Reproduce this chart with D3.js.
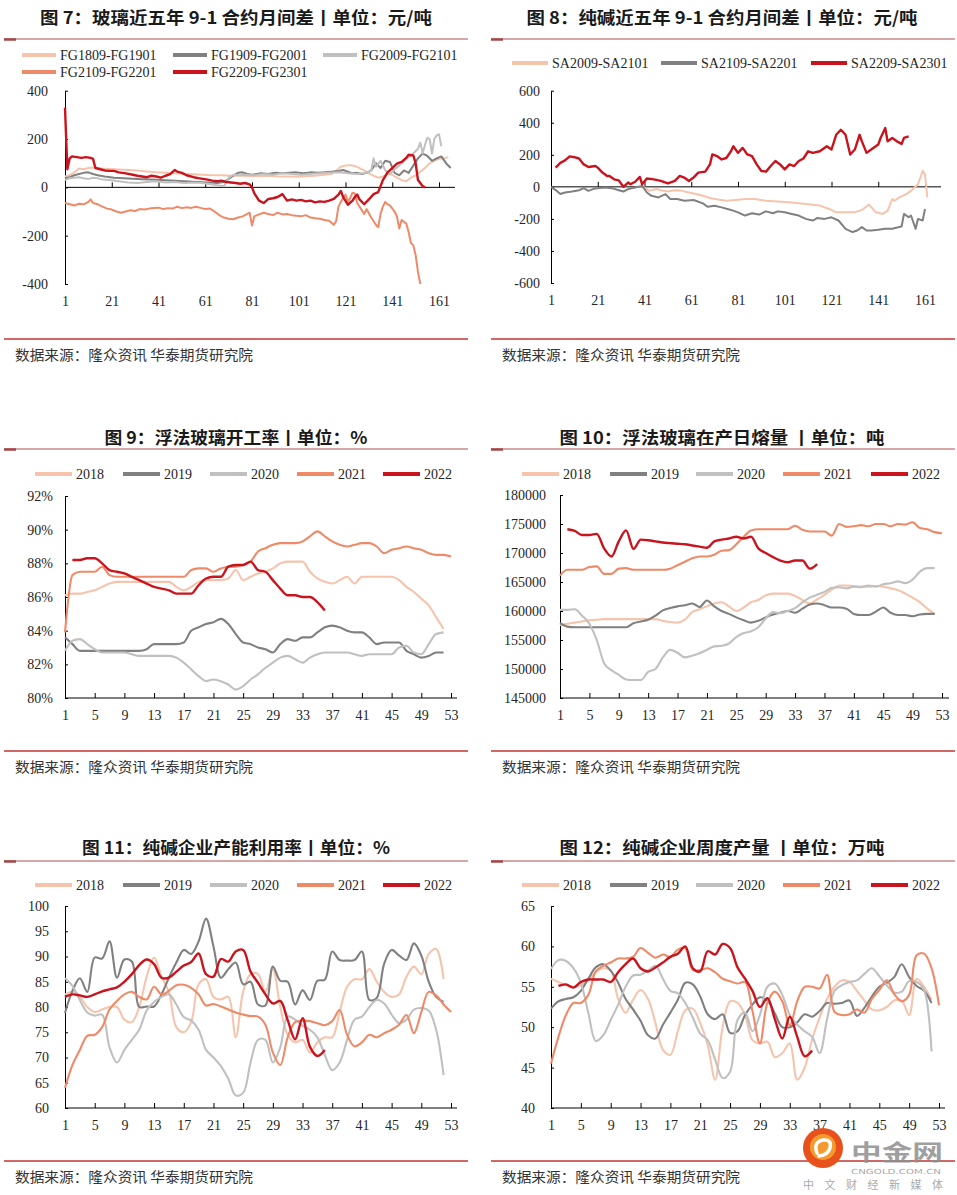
<!DOCTYPE html>
<html>
<head>
<meta charset="utf-8">
<script src="https://cdn.jsdelivr.net/npm/d3@7"></script>
<style>
  body { margin: 0; background: #fff; }
  svg { display: block; }
</style>
</head>
<body>
<div id="chart"></div>
<script>
// ---------- data ----------
// fig 7: glass 9-1 spread, trading day -> yuan/ton
var fg1809 = [[1,45],[3,50],[5,62],[7,78],[9,75],[11,80],[13,82],[15,80],[17,78],[20,76],[24,74],[28,72],[32,70],[36,66],[40,62],[44,60],[48,58],[52,56],[56,54],[60,52],[64,50],[68,50],[72,48],[76,48],[80,47],[84,46],[88,48],[92,45],[96,45],[100,44],[104,46],[108,48],[112,52],[115,55],[117,70],[119,85],[121,90],[123,92],[125,88],[127,80],[129,70],[131,58],[133,48],[135,40],[137,45],[139,55],[141,52],[143,40],[145,30],[147,25],[149,40],[151,50],[153,65],[155,80],[157,100],[159,110],[161,118],[163,120],[165,125]];
var fg1909 = [[1,38],[3,42],[5,50],[7,55],[9,60],[11,62],[13,55],[15,50],[18,45],[22,40],[26,38],[30,36],[34,34],[38,32],[42,30],[46,28],[50,26],[54,24],[58,22],[62,20],[66,18],[69,22],[71,35],[73,48],[75,60],[77,62],[79,55],[81,52],[83,55],[85,58],[88,55],[91,60],[94,58],[97,60],[100,62],[103,58],[106,62],[109,60],[112,62],[115,65],[118,68],[120,72],[122,65],[124,58],[126,60],[128,55],[130,60],[132,70],[134,100],[136,80],[138,110],[140,105],[142,60],[144,50],[146,70],[148,60],[150,90],[152,120],[154,140],[156,130],[158,110],[160,120],[162,128],[164,100],[166,80]];
var fg2009 = [[1,30],[3,38],[5,40],[7,42],[9,38],[11,35],[13,40],[15,38],[17,32],[20,30],[24,25],[28,20],[32,18],[36,22],[40,25],[44,20],[48,22],[52,18],[56,20],[60,18],[64,12],[67,8],[69,5],[71,40],[73,52],[75,50],[78,52],[82,50],[86,55],[90,52],[94,58],[98,55],[102,52],[106,55],[110,58],[114,60],[118,62],[122,58],[126,55],[130,60],[132,70],[133,120],[134,85],[136,110],[138,70],[140,55],[142,75],[144,90],[146,110],[148,125],[150,140],[152,160],[153,185],[154,140],[155,175],[156,205],[157,200],[158,140],[159,200],[160,215],[161,220],[162,170]];
var fg2109 = [[1,-65],[3,-70],[5,-75],[7,-68],[9,-70],[11,-60],[12,-50],[13,-65],[15,-70],[17,-80],[19,-88],[21,-92],[23,-100],[25,-105],[27,-100],[29,-95],[31,-98],[33,-90],[35,-92],[37,-88],[39,-85],[41,-84],[43,-90],[45,-86],[47,-88],[49,-80],[51,-86],[53,-82],[55,-85],[57,-80],[59,-85],[61,-90],[63,-88],[65,-100],[67,-115],[69,-125],[71,-130],[73,-132],[75,-125],[77,-120],[79,-110],[80,-105],[81,-158],[82,-120],[84,-112],[86,-105],[88,-110],[90,-115],[92,-105],[94,-112],[96,-110],[98,-115],[100,-118],[102,-120],[104,-115],[106,-125],[108,-128],[110,-130],[112,-135],[114,-138],[116,-155],[117,-140],[118,-80],[119,-60],[120,-45],[121,-30],[122,-60],[123,-45],[124,-22],[125,-25],[126,-65],[128,-95],[129,-110],[130,-90],[132,-125],[134,-155],[135,-165],[136,-110],[137,-80],[138,-60],[139,-70],[140,-75],[142,-100],[143,-120],[144,-170],[145,-135],[147,-150],[148,-185],[149,-230],[150,-240],[151,-280],[152,-350],[153,-400]];
var fg2209 = [[1,330],[2,75],[3,120],[4,128],[6,125],[8,122],[10,125],[12,122],[13,118],[14,80],[16,75],[18,70],[20,68],[22,68],[24,62],[27,58],[30,52],[32,48],[34,45],[36,42],[38,48],[40,45],[42,40],[44,48],[46,55],[48,72],[49,65],[51,60],[53,50],[56,42],[58,38],[60,35],[62,32],[64,28],[66,25],[68,28],[70,22],[72,20],[74,18],[76,15],[78,18],[80,12],[81,0],[82,-25],[84,-55],[86,-65],[88,-48],[90,-45],[92,-40],[94,-28],[96,-55],[98,-50],[100,-55],[102,-52],[104,-58],[106,-55],[108,-62],[110,-58],[112,-60],[114,-55],[116,-48],[118,-30],[119,-15],[120,-40],[122,-72],[124,-55],[125,-40],[126,-30],[127,-50],[129,-70],[131,-50],[133,-28],[135,-20],[136,5],[137,30],[139,62],[141,80],[143,98],[145,105],[147,122],[148,135],[150,132],[151,100],[152,30],[153,18],[154,5],[155,0]];

// fig 8: soda ash 9-1 spread
var sa2009 = [[40,6],[43,-25],[46,-14],[49,-25],[51,-29],[54,-21],[57,-25],[60,-35],[63,-45],[66,-56],[69,-70],[71,-76],[76,-87],[80,-82],[84,-76],[88,-76],[93,-87],[98,-91],[104,-97],[110,-107],[116,-117],[120,-138],[123,-159],[127,-159],[131,-159],[134,-144],[137,-111],[140,-159],[143,-169],[145,-148],[147,-76],[148,-87],[150,-66],[153,-45],[155,-25],[158,16],[160,99],[161,80],[162,-66]];
var sa2109 = [[1,0],[3,-20],[5,-45],[7,-35],[10,-29],[13,-21],[15,-8],[17,-25],[19,-14],[21,-8],[24,-4],[27,-8],[30,-21],[32,-29],[34,-14],[37,-4],[40,6],[42,-35],[44,-56],[47,-66],[50,-45],[52,-76],[55,-76],[58,-87],[62,-82],[66,-103],[68,-124],[71,-118],[74,-128],[78,-144],[81,-159],[84,-179],[87,-165],[90,-173],[93,-153],[96,-165],[98,-153],[101,-159],[104,-169],[107,-179],[110,-200],[113,-210],[115,-194],[118,-200],[121,-190],[124,-210],[127,-262],[130,-282],[132,-272],[134,-251],[136,-272],[138,-272],[141,-268],[144,-262],[147,-262],[150,-251],[151,-247],[152,-169],[154,-190],[155,-179],[157,-262],[158,-200],[160,-210],[161,-138]];
var sa2209 = [[3,120],[5,150],[7,165],[9,190],[11,185],[13,177],[15,140],[17,124],[20,130],[21,120],[23,89],[25,68],[26,68],[28,47],[30,40],[32,0],[34,27],[35,16],[37,32],[39,62],[40,16],[42,52],[45,47],[48,37],[51,21],[54,37],[56,68],[58,58],[60,37],[62,58],[64,89],[67,95],[69,140],[70,202],[72,192],[74,171],[76,180],[78,222],[79,253],[81,212],[83,243],[85,202],[87,192],[89,140],[91,99],[93,95],[95,130],[97,161],[99,140],[101,109],[103,140],[105,130],[107,161],[109,177],[111,222],[113,212],[116,222],[119,253],[121,233],[123,325],[125,356],[127,325],[129,202],[131,233],[133,325],[134,284],[136,212],[138,233],[141,264],[142,305],[144,367],[145,284],[147,305],[149,284],[151,268],[152,305],[154,315]];

var dayTicks = [1, 21, 41, 61, 81, 101, 121, 141, 161];
var weekTicks = [1, 5, 9, 13, 17, 21, 25, 29, 33, 37, 41, 45, 49, 53];
var years = ["2018", "2019", "2020", "2021", "2022"];

// fig 9: float glass operating rate, %
var glass2018 = [86.1,86.2,86.2,86.3,86.4,86.6,86.8,86.9,86.9,86.9,86.9,86.9,86.9,86.9,86.9,86.6,86.4,86.6,86.9,87.0,87.0,87.0,87.1,87.6,87.0,87.2,87.4,87.5,87.7,88.0,88.1,88.1,88.1,87.5,87.1,86.9,86.8,87.0,87.2,86.8,87.2,87.2,87.2,87.2,87.2,87.0,86.6,86.3,85.9,85.5,84.8,84.1];
var glass2019 = [83.6,83.2,82.8,82.8,82.8,82.8,82.8,82.8,82.8,82.8,82.8,82.9,83.2,83.2,83.2,83.2,83.3,84.0,84.2,84.4,84.5,84.7,84.4,83.8,83.3,83.2,83.0,82.9,82.7,83.2,83.5,83.4,83.6,83.6,83.9,84.2,84.3,84.2,84.0,83.9,83.9,83.6,83.2,83.3,83.3,83.3,82.8,82.6,82.4,82.5,82.7,82.7];
var glass2020 = [82.8,83.4,83.5,83.2,82.9,82.7,82.7,82.7,82.7,82.6,82.5,82.5,82.5,82.5,82.5,82.4,82.1,81.7,81.3,81.0,81.1,81.0,80.8,80.5,80.7,81.1,81.4,81.8,82.1,82.4,82.5,82.3,82.1,82.4,82.6,82.7,82.7,82.7,82.7,82.6,82.5,82.6,82.6,82.6,82.6,83.0,83.1,82.7,82.6,83.2,83.8,83.9];
var glass2021 = [83.9,87.3,87.5,87.5,87.5,87.8,87.3,87.2,87.2,87.2,87.2,87.2,87.2,87.2,87.2,87.2,87.2,87.6,87.7,87.7,87.5,87.7,87.8,87.8,87.9,88.1,88.7,88.9,89.1,89.2,89.2,89.2,89.3,89.6,89.9,89.6,89.3,89.1,89.0,89.1,89.2,89.2,89.0,88.6,88.8,88.9,89.0,88.9,88.8,88.6,88.5,88.5,88.4];
var glass2022 = [null,88.2,88.2,88.3,88.3,88.0,87.6,87.5,87.4,87.2,87.0,86.8,86.6,86.5,86.4,86.2,86.2,86.2,86.7,87.1,87.2,87.2,87.8,87.9,87.9,88.1,87.6,87.5,87.0,86.5,86.1,86.1,86.0,86.0,85.7,85.2];

// fig 10: float glass daily melt, tons
var melt2018 = [157600,157800,158000,158200,158400,158500,158600,158600,158600,158600,158600,158600,158600,158600,158300,158100,158000,158500,159800,160300,160800,161300,161500,160800,160000,160600,161500,161900,162700,163000,163000,163000,162600,161900,161300,162000,162800,163700,164400,164400,164300,164200,164200,164300,164200,163900,163600,163000,162300,161500,160400,159500];
var melt2019 = [157900,157300,157200,157200,157200,157200,157200,157200,157200,157200,157900,158200,158500,159200,160100,160500,160800,161000,161300,160700,161800,160800,160000,159500,158900,158400,158000,158300,158900,159400,159700,160000,159700,160400,161100,161300,161000,160600,160600,160400,159500,159300,159300,159900,160600,159700,159300,159300,159100,159400,159500,159500];
var melt2020 = [160200,160200,160300,159200,157800,155000,151000,149800,149000,148200,148100,148100,149500,150000,152000,153300,152800,152000,152300,152700,153300,153900,154000,154400,155500,156200,156500,157200,158700,159800,159600,160000,160500,161500,162300,162800,163300,164000,164100,163900,164200,164100,164400,164200,164600,164800,165100,164800,165400,166800,167400,167400];
var melt2021 = [166100,167100,167100,167100,167600,167700,166400,166400,167300,167400,167100,167100,167100,167100,167100,167300,167900,168500,169100,169400,169400,169700,170400,170500,171500,172800,173900,174100,174100,174100,174100,174100,174700,174000,173700,173700,173700,173000,175000,174500,174600,174800,174600,175000,175000,174600,175000,174900,175300,174300,174100,173600,173400];
var melt2022 = [null,174100,173800,173100,173100,173300,170800,169400,172000,173900,170700,172300,172200,172000,171800,171700,171600,171500,171300,171100,170900,172000,172300,172500,172800,172500,172800,170800,170000,169300,168700,168400,168700,168700,167300,168100];

// fig 11: soda ash capacity utilisation, %
var util2018 = [82.5,83,82,80,79,79.5,80,80,77.5,77,80,86,89.8,86,83,76,75,77,84.5,85.5,82,81.5,82,74,83,86.5,86.5,83,87.5,80,74.5,73,73.5,71,73,74,74,79,84,85.5,85.5,87.5,85,83,82,82.5,86,88,86.5,90.5,91.5,85.5];
var util2019 = [78.8,83.2,85.7,83.0,89.8,89.6,93.0,85.8,89.4,89.0,80.0,80.1,80.1,82.5,85.8,88.8,91.3,90.5,93.0,97.5,92.0,85.8,87.5,88.8,84.5,85.0,80.5,80.3,88.0,85.2,85.0,80.5,83.3,81.4,85.2,85.4,91.0,89.3,89.2,89.3,91.0,81.4,81.8,88.6,91.3,90.2,89.3,92.6,90.2,85.0,82.0,81.0];
var util2020 = [85.7,84.2,81.4,78.9,78.3,78.5,72.0,69.0,71.5,73.5,75.5,79.3,81.0,82.0,82.5,80.5,78.0,77.3,75.5,71.5,70.0,68.3,65.8,62.5,63.0,69.0,73.5,73.5,69.0,72.0,78.1,77.5,76.3,75.5,74.0,70.5,67.5,69.0,73.5,77.5,78.1,80.0,81.4,80.7,78.5,76.8,77.5,79.5,79.8,79.3,75.5,66.5];
var util2021 = [64.0,68.5,71.5,74.3,74.5,76.0,79.5,81.2,82.5,83.0,82.0,81.5,84.0,82.5,83.2,84.3,84.4,83.8,82.5,80.3,80.6,80.1,79.5,78.9,78.5,78.2,78.1,76.5,71.0,68.5,74.0,77.0,77.3,77.2,76.8,76.4,77.2,79.4,74.5,72.2,73.0,74.5,74.0,74.8,75.5,76.5,78.4,74.8,79.0,83.0,82.3,80.5,79.0];
var util2022 = [82.0,82.5,82.3,82.0,82.5,83.1,83.5,83.9,85.0,86.5,88.3,89.4,88.5,85.8,85.8,87.0,88.2,88.9,90.6,86.5,86.0,89.5,89.0,91.0,91.3,87.0,84.8,82.5,80.7,81.2,77.4,73.6,77.8,72.1,70.3,71.5];

// fig 12: soda ash weekly output, 10k tons
var prod2018 = [56.0,55.6,55.2,55.0,55.2,55.8,56.8,57.3,57.0,53.5,51.8,53.4,54.6,53.5,50.5,47.2,46.6,49.5,52.1,52.3,50.5,47.8,43.5,50.0,53.2,53.0,51.5,48.4,48.0,48.2,46.3,46.8,48.0,43.5,45.0,48.5,51.2,53.5,55.0,55.8,55.6,54.5,53.3,52.2,52.1,52.5,53.3,53.3,51.5,56.0,55.0,53.4];
var prod2019 = [52.3,53.2,53.5,53.7,54.5,56.0,57.4,57.8,57.0,55.5,53.5,52.2,50.8,49.0,48.6,50.3,51.8,53.4,55.5,55.3,53.8,51.6,51.0,51.6,49.3,49.5,51.5,52.8,53.7,53.3,51.7,50.0,50.0,50.6,51.6,51.3,52.0,53.0,52.9,53.0,53.3,51.4,52.4,53.8,55.0,55.5,56.2,57.8,56.2,55.1,54.5,53.0];
var prod2020 = [57.2,58.3,58.2,57.3,55.5,51.8,48.3,49.0,50.9,52.8,55.0,56.4,56.5,57.0,57.6,56.0,54.5,54.2,53.0,51.2,49.2,48.4,46.0,43.7,44.5,50.9,51.8,49.5,51.5,55.0,55.4,54.0,51.5,50.3,49.5,48.8,46.8,51.0,54.5,55.2,55.6,55.8,56.6,57.3,56.3,55.2,54.3,54.4,55.7,55.6,54.6,47.0];
var prod2021 = [45.5,48.8,51.5,53.0,53.0,54.0,56.9,57.6,58.0,58.5,58.5,58.7,59.8,59.2,58.6,59.0,58.7,59.6,59.8,57.1,57.1,57.3,56.8,56.0,55.7,55.4,55.6,52.0,48.0,53.0,54.4,53.2,50.2,53.2,55.0,55.0,54.8,56.5,51.9,51.5,51.6,52.2,51.8,53.5,54.6,55.8,54.1,53.2,54.0,58.9,59.1,57.3,52.7];
var prod2022 = [null,55.1,55.3,54.9,55.6,55.9,55.9,55.9,55.6,56.8,57.8,58.5,57.3,56.9,57.4,58.0,58.7,59.1,60.0,57.3,56.9,59.4,59.0,60.3,59.8,57.4,56.0,54.5,52.5,53.6,51.0,48.6,51.3,48.8,46.4,47.1];

// ---------- setup ----------
var COL = {c18: "#F6C4AC", c19: "#808080", c20: "#C0C0C0", c21: "#EE8A68", c22: "#C9141E"};
var yearCols = [COL.c18, COL.c19, COL.c20, COL.c21, COL.c22];
var SERIF = "'Liberation Serif','Times New Roman',serif";
var CJK = "'Noto Sans CJK SC','Noto Sans',sans-serif";
var SOURCE = "数据来源：隆众资讯 华泰期货研究院";

var svg = d3.select("#chart").append("svg")
  .attr("width", 957)
  .attr("height", 1195);

//turn a weekly array into [week, value] pairs
function byWeek(arr) {
  return arr.map(function(v, i) { return [i + 1, v]; });
}

function yearSeries(arrs) {
  return arrs.map(function(a, i) {
    return {name: years[i], data: byWeek(a), color: yearCols[i], w: i == 4 ? 2.4 : 2.1};
  });
}

var drawPanel = function(p) {
  var g = svg.append("g");
  var x = d3.scaleLinear().domain(p.xDomain).range(p.xRange);
  var y = d3.scaleLinear().domain(p.yDomain).range(p.yRange);

  //Title and rules
  g.append("text")
    .attr("x", p.titleX).attr("y", p.titleY)
    .attr("text-anchor", "middle")
    .style("font-family", CJK).style("font-weight", "bold").style("font-size", "17px")
    .style("fill", "#1a1a1a")
    .attr("textLength", p.titleW).attr("lengthAdjust", "spacingAndGlyphs")
    .text(p.title);
  g.append("line")
    .attr("x1", p.ruleX[0]).attr("x2", p.ruleX[1])
    .attr("y1", p.ruleTop).attr("y2", p.ruleTop)
    .style("stroke", "#C88A8A").style("stroke-width", 1.5);
  g.append("line")
    .attr("x1", p.ruleX[0]).attr("x2", p.ruleX[0] + 12)
    .attr("y1", p.ruleTop + 0.5).attr("y2", p.ruleTop + 0.5)
    .style("stroke", "#A34848").style("stroke-width", 2.5);
  g.append("line")
    .attr("x1", p.ruleX[0]).attr("x2", p.ruleX[1])
    .attr("y1", p.ruleBottom).attr("y2", p.ruleBottom)
    .style("stroke", "#D06868").style("stroke-width", 2);
  g.append("text")
    .attr("x", p.ruleX[0] + 11).attr("y", p.ruleBottom + 21)
    .style("font-family", CJK).style("font-size", "14px").style("fill", "#333")
    .attr("textLength", 238).attr("lengthAdjust", "spacingAndGlyphs")
    .text(SOURCE);

  //Legend
  p.series.forEach(function(s, i) {
    var L = p.legend[i];
    g.append("line")
      .attr("x1", L[0]).attr("x2", L[0] + p.legLen)
      .attr("y1", L[1]).attr("y2", L[1])
      .style("stroke", s.color).style("stroke-width", 4);
    g.append("text")
      .attr("x", L[0] + p.legLen + 4).attr("y", L[1] + 5)
      .style("font-family", SERIF).style("font-size", "14px").style("fill", "#262626")
      .text(s.name);
  });

  //Y axis, ticks point inward
  var ya = g.append("g")
    .attr("transform", "translate(" + p.xRange[0] + ",0)")
    .call(d3.axisLeft(y).tickValues(p.yTicks).tickSize(-3).tickSizeOuter(0)
      .tickPadding(p.yPad).tickFormat(p.yFmt));

  //X axis line (at zero for spread charts) with upward ticks
  var xa = g.append("g")
    .attr("transform", "translate(0," + y(p.axisAt) + ")")
    .call(d3.axisBottom(x).tickValues(p.xTicks).tickSize(-5).tickSizeOuter(0).tickFormat(""));
  xa.select(".domain").remove();
  g.append("line")
    .attr("x1", p.xRange[0]).attr("x2", p.axisEnd)
    .attr("y1", y(p.axisAt)).attr("y2", y(p.axisAt))
    .style("stroke", "#000").style("stroke-width", 1);

  //X labels at the bottom of the plot
  var xl = g.append("g")
    .attr("transform", "translate(0," + p.yRange[0] + ")")
    .call(d3.axisBottom(x).tickValues(p.xTicks).tickSize(0).tickPadding(12));
  xl.select(".domain").remove();

  g.selectAll(".tick text")
    .style("font-family", SERIF).style("font-size", "14px").style("fill", "#262626");
  g.selectAll(".tick line").style("stroke", "#000");
  ya.select(".domain").style("stroke", "#000");

  //Lines
  var line = d3.line()
    .defined(function(d) { return d[1] != null; })
    .x(function(d) { return x(d[0]); })
    .y(function(d) { return y(d[1]); })
    .curve(p.curve);
  p.series.forEach(function(s) {
    g.append("path")
      .datum(s.data)
      .attr("fill", "none")
      .style("stroke", s.color)
      .style("stroke-width", s.w)
      .style("stroke-linejoin", "round")
      .attr("d", line);
  });
};

var plain = function(d) { return String(d); };
var leftLeg = [[35, 474], [123, 474], [210, 474], [297, 474], [383, 474]];
var rightLeg = [[522, 474], [610, 474], [696, 474], [783, 474], [871, 474]];

// fig 7
drawPanel({
  title: "图 7：玻璃近五年 9-1 合约月间差丨单位：元/吨", titleX: 236, titleY: 24, titleW: 392,
  ruleX: [4, 468], ruleTop: 39, ruleBottom: 339,
  xDomain: [1, 161], xRange: [65, 439], axisEnd: 455, xTicks: dayTicks,
  yDomain: [-400, 400], yRange: [284, 90.7], yTicks: [-400, -200, 0, 200, 400], yPad: 17, yFmt: plain,
  axisAt: 0, curve: d3.curveLinear, legLen: 34,
  legend: [[22, 55], [173, 55], [323, 55], [22, 72], [173, 72]],
  series: [
    {name: "FG1809-FG1901", data: fg1809, color: COL.c18, w: 2},
    {name: "FG1909-FG2001", data: fg1909, color: COL.c19, w: 2},
    {name: "FG2009-FG2101", data: fg2009, color: COL.c20, w: 2},
    {name: "FG2109-FG2201", data: fg2109, color: COL.c21, w: 2},
    {name: "FG2209-FG2301", data: fg2209, color: COL.c22, w: 2.4}
  ]
});

// fig 8
drawPanel({
  title: "图 8：纯碱近五年 9-1 合约月间差丨单位：元/吨", titleX: 722, titleY: 24, titleW: 391,
  ruleX: [491, 955], ruleTop: 39, ruleBottom: 339,
  xDomain: [1, 161], xRange: [551, 925], axisEnd: 941, xTicks: dayTicks,
  yDomain: [-600, 600], yRange: [283, 90.7], yTicks: [-600, -400, -200, 0, 200, 400, 600], yPad: 11, yFmt: plain,
  axisAt: 0, curve: d3.curveLinear, legLen: 36,
  legend: [[512, 63], [661, 63], [811, 63]],
  series: [
    {name: "SA2009-SA2101", data: sa2009, color: COL.c18, w: 2},
    {name: "SA2109-SA2201", data: sa2109, color: COL.c19, w: 2},
    {name: "SA2209-SA2301", data: sa2209, color: COL.c22, w: 2.4}
  ]
});

// fig 9
drawPanel({
  title: "图 9：浮法玻璃开工率丨单位：%", titleX: 236, titleY: 444, titleW: 263,
  ruleX: [4, 468], ruleTop: 449, ruleBottom: 751,
  xDomain: [1, 53], xRange: [65, 451], axisEnd: 457, xTicks: weekTicks,
  yDomain: [80, 92], yRange: [698, 496], yTicks: [80, 82, 84, 86, 88, 90, 92], yPad: 12,
  yFmt: function(d) { return d + "%"; },
  axisAt: 80, curve: d3.curveMonotoneX, legLen: 37, legend: leftLeg,
  series: yearSeries([glass2018, glass2019, glass2020, glass2021, glass2022])
});

// fig 10
drawPanel({
  title: "图 10：浮法玻璃在产日熔量 丨单位：吨", titleX: 722, titleY: 444, titleW: 325,
  ruleX: [491, 955], ruleTop: 449, ruleBottom: 751,
  xDomain: [1, 53], xRange: [560, 942], axisEnd: 949, xTicks: weekTicks,
  yDomain: [145000, 180000], yRange: [698, 495],
  yTicks: [145000, 150000, 155000, 160000, 165000, 170000, 175000, 180000], yPad: 14, yFmt: plain,
  axisAt: 145000, curve: d3.curveMonotoneX, legLen: 37, legend: rightLeg,
  series: yearSeries([melt2018, melt2019, melt2020, melt2021, melt2022])
});

// fig 11
drawPanel({
  title: "图 11：纯碱企业产能利用率丨单位：%", titleX: 236, titleY: 854, titleW: 308,
  ruleX: [4, 468], ruleTop: 861, ruleBottom: 1161,
  xDomain: [1, 53], xRange: [65, 451], axisEnd: 457, xTicks: weekTicks,
  yDomain: [60, 100], yRange: [1108, 906], yTicks: [60, 65, 70, 75, 80, 85, 90, 95, 100], yPad: 16, yFmt: plain,
  axisAt: 60, curve: d3.curveCatmullRom, legLen: 37,
  legend: leftLeg.map(function(l) { return [l[0], 885]; }),
  series: yearSeries([util2018, util2019, util2020, util2021, util2022])
});

// fig 12
drawPanel({
  title: "图 12：纯碱企业周度产量 丨单位：万吨", titleX: 722, titleY: 854, titleW: 325,
  ruleX: [491, 955], ruleTop: 861, ruleBottom: 1161,
  xDomain: [1, 53], xRange: [551, 939], axisEnd: 945, xTicks: weekTicks,
  yDomain: [40, 65], yRange: [1108, 906], yTicks: [40, 45, 50, 55, 60, 65], yPad: 16, yFmt: plain,
  axisAt: 40, curve: d3.curveCatmullRom, legLen: 37,
  legend: rightLeg.map(function(l) { return [l[0], 885]; }),
  series: yearSeries([prod2018, prod2019, prod2020, prod2021, prod2022])
});

//Watermark in the corner, kept just below the week labels
var wm = svg.append("g");
wm.append("circle").attr("cx", 823).attr("cy", 1148).attr("r", 20).style("fill", "#E8511C");
wm.append("circle").attr("cx", 823).attr("cy", 1147).attr("r", 13).style("fill", "#F59A2E");
wm.append("path")
  .attr("d", "M817,1153 q-4,-11 6,-13 q9,-1 7,8 q-2,7 -11,8")
  .style("fill", "none").style("stroke", "#fff").style("stroke-width", 3.5).style("stroke-linecap", "round");
wm.append("text")
  .attr("x", 851).attr("y", 1160)
  .style("font-family", CJK).style("font-weight", "bold").style("font-size", "22px")
  .style("fill", "#8f8f8f").style("opacity", 0.85)
  .attr("textLength", 92).attr("lengthAdjust", "spacingAndGlyphs")
  .text("中金网");
wm.append("text")
  .attr("x", 851).attr("y", 1174)
  .style("font-family", "'DejaVu Sans',sans-serif").style("font-size", "7px").style("fill", "#aaa")
  .attr("textLength", 90).attr("lengthAdjust", "spacingAndGlyphs")
  .text("CNGOLD.COM.CN");
wm.append("text")
  .attr("x", 803).attr("y", 1189)
  .style("font-family", CJK).style("font-size", "11px").style("fill", "#aaa")
  .attr("textLength", 140).attr("lengthAdjust", "spacing")
  .text("中文财经新媒体");
</script>
</body>
</html>
